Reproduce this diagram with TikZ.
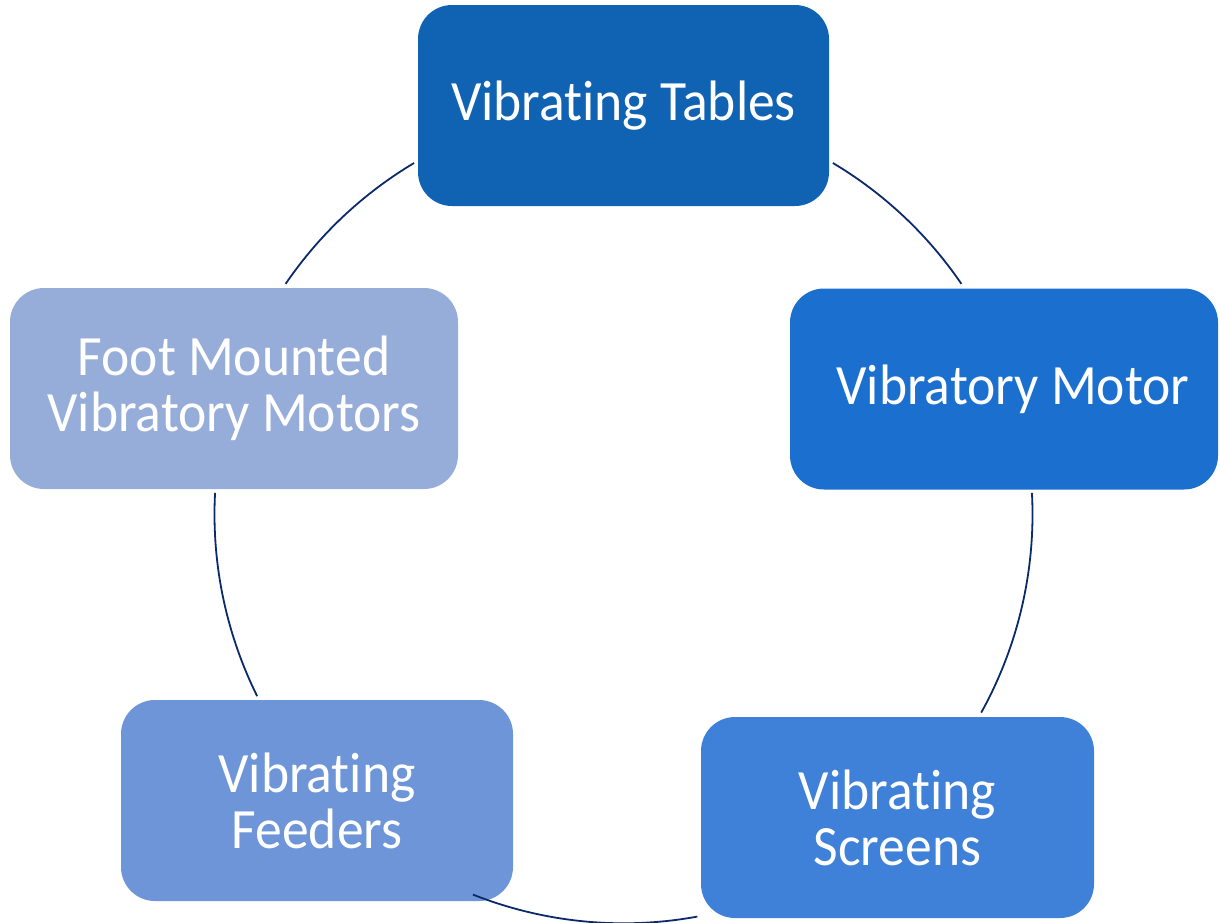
\documentclass[tikz,border=0pt]{standalone}
\usepackage{fontspec}
\setmainfont{Carlito}[FakeStretch=0.94,Ligatures=NoCommon]
\usepackage{tikz}
\definecolor{tableblue}{HTML}{1063B3}
\definecolor{motorblue}{HTML}{1B70CF}
\definecolor{screenblue}{HTML}{3F80D8}
\definecolor{feederblue}{HTML}{6D95D8}
\definecolor{footblue}{HTML}{97ADD9}
\definecolor{ringnavy}{HTML}{0B2A6B}

\begin{document}
\begin{tikzpicture}[x=1pt,y=-1pt]
		\tikzstyle{box}=[rectangle, rounded corners=34pt, minimum height=201pt, inner sep=0pt, text=white, align=center, font=\fontsize{57}{56}\selectfont]
		\tikzstyle{ring}=[draw=ringnavy, line width=1.8pt]

		\useasboundingbox (0,0) rectangle (1220,922);

		\node [box,fill=tableblue,minimum width=411pt] (tables) at (623.5,105.5) {Vibrating Tables};
		\node [box,fill=motorblue,minimum width=428pt] (motor) at (1004,389) {\hspace*{18pt}Vibratory Motor};
		\node [box,fill=screenblue,minimum width=393pt] (screens) at (897.5,817.5) {Vibrating\\Screens};
		\node [box,fill=feederblue,minimum width=392pt] (feeders) at (317,800.5) {Vibrating\\Feeders};
		\node [box,fill=footblue,minimum width=448pt] (foot) at (234,388.5) {Foot Mounted\\Vibratory Motors};

		% ring through the five boxes
		\coordinate (hub) at (623.5,514.3);
		\path [ring] ([shift={(145.7:409pt)}]hub) arc[start angle=145.7, end angle=120.8, radius=409pt];
		\path [ring] ([shift={(59.2:409pt)}]hub) arc[start angle=59.2, end angle=34.3, radius=409pt];
		\path [ring] ([shift={(3.0:409pt)}]hub) arc[start angle=3.0, end angle=-29.0, radius=409pt];
		\path [ring] ([shift={(-79.6:409pt)}]hub) arc[start angle=-79.6, end angle=-111.6, radius=409pt];
		\path [ring] ([shift={(-153.6:409pt)}]hub) arc[start angle=-153.6, end angle=-183.0, radius=409pt];
	\end{tikzpicture}
\end{document}
